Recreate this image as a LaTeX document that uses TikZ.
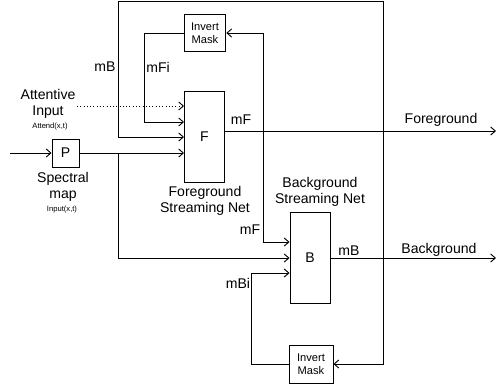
\documentclass[tikz,border=0pt]{standalone}
\usepackage{fontspec}
\setmainfont{Liberation Sans}
\usetikzlibrary{arrows.meta}

\begin{document}
\begin{tikzpicture}[x=0.03cm,y=-0.03cm, line width=0.8pt,
  every node/.style={font=\fontsize{12}{14}\selectfont},
  net/.style={draw,minimum width=1.2cm,minimum height=2.72cm,inner sep=0pt},
  mask/.style={draw,minimum width=1.25cm,minimum height=1.1cm,inner sep=0pt,
    align=center,font=\fontsize{9.5}{11}\selectfont},
  tiny/.style={font=\fontsize{6.5}{7}\selectfont},
  >={Straight Barb[length=4pt,width=7pt]}]
 \useasboundingbox (0,0) rectangle (496,387);
 % blocks
 \node[net] (F) at (204.5,137) {F};
 \node[net] (B) at (310,258) {B};
 \node[draw,minimum width=0.81cm,minimum height=0.84cm,inner sep=0pt]
  (P) at (65.5,153) {P};
 \node[mask] (imF) at (205,33) {Invert\\Mask};
 \node[mask,minimum width=1.32cm,minimum height=1.14cm]
  (imB) at (311,364) {Invert\\Mask};
 % free ends and corners
 \coordinate (in) at (10,153);
 \coordinate (att) at (77,106);
 \coordinate (fg) at (496,131);
 \coordinate (bg) at (496,258);
 \coordinate (sp) at (118,153);
 \coordinate (mf) at (263,131);
 \coordinate (mfb) at (263,242);
 \coordinate (mfi) at (144,122);
 \coordinate (mb) at (383,258);
 \coordinate (tr) at (383,1.5);
 \coordinate (tl) at (118,1.5);
 \coordinate (mbf) at (118,137);
 \coordinate (mbi) at (251,273);
 % spectral input
 \draw[->] (in) -- (P);
 \draw[->] (P) -- (P -| F.west);
 \draw[->] (sp) |- (B.west);
 \draw[->,dotted] (att) -- (att -| F.west);
 % foreground side
 \draw[->] (F.east |- fg) -- (fg);
 \draw[->] (mf) |- (imF.east);
 \draw[->] (mf) -- (mfb) -- (mfb -| B.west);
 \draw[->] (imF.west) -| (mfi) -- (mfi -| F.west);
 % background side
 \draw[->] (B.east) -- (bg);
 \draw[->] (mb) -- (tr) -- (tl) -- (mbf) -- (mbf -| F.west);
 \draw[->] (mb) |- (imB.east);
 \draw[->] (imB.west) -| (mbi) -- (mbi -| B.west);
 % labels
 \node[align=center] (attL) at (48,104) {Attentive\\Input};
 \node[tiny] (attT) at (50,127) {Attend(x,t)};
 \node[align=center] (spL) at (63,187) {Spectral\\map};
 \node[tiny] (spT) at (62,210) {Input(x,t)};
 \node[align=center] (fnL) at (205,201) {Foreground\\Streaming Net};
 \node[align=center] (bnL) at (320,192) {Background\\Streaming Net};
 \node (mBl) at (105,67) {mB};
 \node (mFil) at (158,67) {mFi};
 \node (mFl) at (241,120) {mF};
 \node (mFbl) at (250,230) {mF};
 \node (mBbl) at (349,251) {mB};
 \node (mBil) at (238,283) {mBi};
 \node (fgL) at (441,120) {Foreground};
 \node (bgL) at (439,250) {Background};
\end{tikzpicture}
\end{document}
